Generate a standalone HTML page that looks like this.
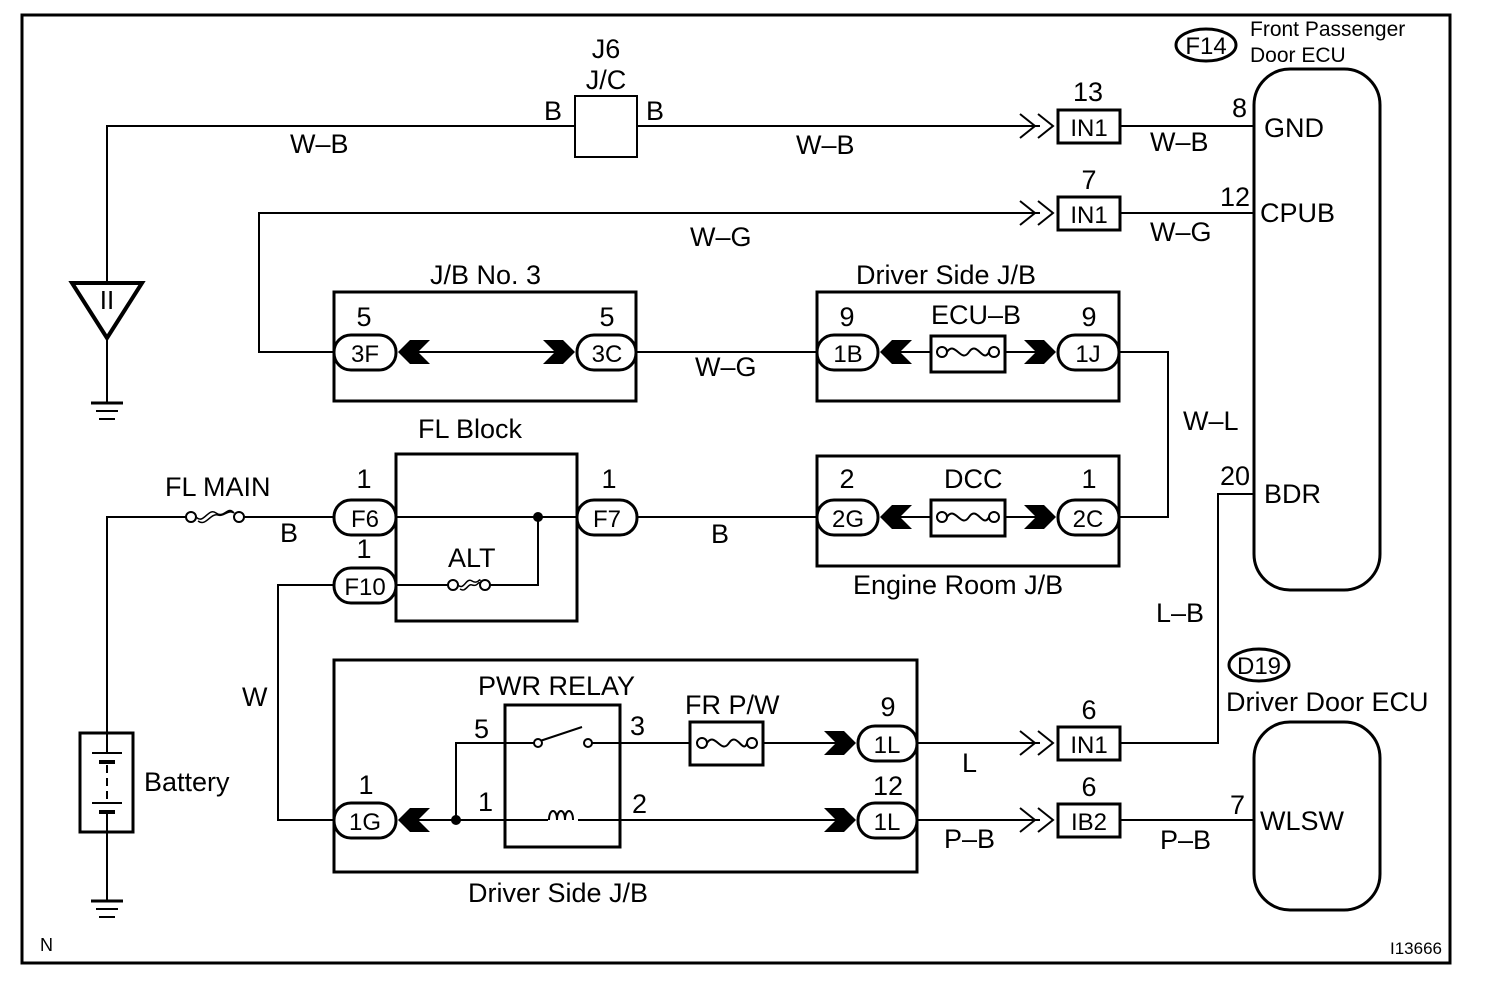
<!DOCTYPE html>
<html><head><meta charset="utf-8"><style>
html,body{margin:0;padding:0;background:#fff}
svg{display:block}
text{font-family:"Liberation Sans",Arial,sans-serif;fill:#000}
</style></head><body>
<svg width="1504" height="996" viewBox="0 0 1504 996" xmlns="http://www.w3.org/2000/svg">
<g fill="none" stroke="#000" stroke-width="2">
<rect x="22" y="15" width="1428" height="948" stroke-width="3"/>
<polyline points="107,282 107,126 575,126"/>
<line x1="637" y1="126" x2="1040" y2="126"/>
<rect x="575" y="96" width="62" height="61"/>
<polyline points="1020,114 1035,126 1020,138"/><polyline points="1038,114 1053,126 1038,138"/>
<rect x="1058" y="110" width="62" height="33" stroke-width="3"/>
<line x1="1120" y1="126" x2="1255" y2="126"/>
<polygon points="72,283 142,283 107,338" stroke-width="4"/>
<line x1="107" y1="338" x2="107" y2="402"/>
<line x1="91" y1="403" x2="123" y2="403" stroke-width="3"/>
<line x1="96" y1="411" x2="118" y2="411"/>
<line x1="99" y1="419" x2="115" y2="419"/>
<polyline points="334,352 259,352 259,213 1040,213"/>
<polyline points="1020,201 1035,213 1020,225"/><polyline points="1038,201 1053,213 1038,225"/>
<rect x="1058" y="197" width="62" height="33" stroke-width="3"/>
<line x1="1120" y1="213" x2="1255" y2="213"/>
<rect x="334" y="292" width="302" height="109" stroke-width="3"/>
<line x1="410" y1="352" x2="560" y2="352"/>
<line x1="636" y1="352" x2="817" y2="352"/>
<rect x="817" y="292" width="302" height="109" stroke-width="3"/>
<line x1="890" y1="352" x2="931" y2="352"/>
<line x1="1005" y1="352" x2="1045" y2="352"/>
<rect x="931" y="336" width="74" height="36" stroke-width="3"/>
<polyline points="1119,352 1168,352 1168,517 1119,517"/>
<rect x="817" y="456" width="302" height="110" stroke-width="3"/>
<line x1="890" y1="517" x2="931" y2="517"/>
<line x1="1005" y1="517" x2="1045" y2="517"/>
<rect x="931" y="500" width="74" height="36" stroke-width="3"/>
<rect x="396" y="454" width="181" height="167" stroke-width="3"/>
<line x1="396" y1="517" x2="577" y2="517"/>
<polyline points="538,517 538,585 490,585"/>
<line x1="396" y1="585" x2="448" y2="585"/>
<line x1="637" y1="517" x2="817" y2="517"/>
<polyline points="107,733 107,517 186,517"/>
<line x1="244" y1="517" x2="334" y2="517"/>
<rect x="80" y="733" width="53" height="99" stroke-width="3"/>
<line x1="107" y1="832" x2="107" y2="900"/>
<line x1="91" y1="901" x2="123" y2="901" stroke-width="3"/>
<line x1="96" y1="909" x2="118" y2="909"/>
<line x1="99" y1="917" x2="115" y2="917"/>
<line x1="92" y1="753" x2="122" y2="753"/>
<line x1="99" y1="762" x2="115" y2="762" stroke-width="4"/>
<line x1="107" y1="765" x2="107" y2="800" stroke-dasharray="8,5"/>
<line x1="92" y1="803" x2="122" y2="803"/>
<line x1="99" y1="812" x2="115" y2="812" stroke-width="4"/>
<line x1="107" y1="733" x2="107" y2="753"/><line x1="107" y1="812" x2="107" y2="832"/>
<polyline points="334,585 278,585 278,820 334,820"/>
<rect x="334" y="660" width="583" height="212" stroke-width="3"/>
<rect x="505" y="705" width="115" height="142" stroke-width="3"/>
<polyline points="456,820 456,743 538,743"/>
<line x1="410" y1="820" x2="548" y2="820"/>
<line x1="578" y1="820" x2="840" y2="820"/>
<line x1="540" y1="741" x2="582" y2="727"/>
<line x1="592" y1="743" x2="690" y2="743"/>
<line x1="763" y1="743" x2="840" y2="743"/>
<rect x="690" y="722" width="73" height="43" stroke-width="3"/>
<path d="M549,820 c0,-12 8,-12 8,0 c0,-12 8,-12 8,0 c0,-12 8,-12 8,0" />
<line x1="917" y1="743" x2="1040" y2="743"/>
<polyline points="1020,731 1035,743 1020,755"/><polyline points="1038,731 1053,743 1038,755"/>
<rect x="1058" y="727" width="62" height="33" stroke-width="3"/>
<polyline points="1120,743 1218,743 1218,494 1255,494"/>
<line x1="917" y1="820" x2="1040" y2="820"/>
<polyline points="1020,808 1035,820 1020,832"/><polyline points="1038,808 1053,820 1038,832"/>
<rect x="1058" y="804" width="62" height="33" stroke-width="3"/>
<line x1="1120" y1="820" x2="1255" y2="820"/>
<rect x="1254" y="69" width="126" height="521" rx="36" stroke-width="3"/>
<rect x="1254" y="722" width="126" height="188" rx="36" stroke-width="3"/>
<ellipse cx="1206" cy="45" rx="30" ry="16" stroke-width="3"/>
<ellipse cx="1259" cy="665" rx="30" ry="16" stroke-width="3"/>
<g stroke-width="3" fill="#fff">
<rect x="334" y="335" width="62" height="35" rx="17"/>
<rect x="577" y="335" width="59" height="35" rx="17"/>
<rect x="817" y="335" width="61" height="35" rx="17"/>
<rect x="1058" y="335" width="61" height="35" rx="17"/>
<rect x="817" y="500" width="61" height="35" rx="17"/>
<rect x="1058" y="500" width="61" height="35" rx="17"/>
<rect x="334" y="500" width="62" height="35" rx="17"/>
<rect x="577" y="500" width="60" height="35" rx="17"/>
<rect x="334" y="568" width="62" height="35" rx="17"/>
<rect x="334" y="803" width="62" height="35" rx="17"/>
<rect x="858" y="726" width="59" height="35" rx="17"/>
<rect x="858" y="803" width="59" height="35" rx="17"/>
</g>
<g fill="#fff">
<circle cx="942" cy="352" r="5"/><circle cx="994" cy="352" r="5"/>
<path d="M947,352 c8,-12 14,12 22,0 c8,-12 14,12 20,0" fill="none"/>
<circle cx="942" cy="517" r="5"/><circle cx="994" cy="517" r="5"/>
<path d="M947,517 c8,-12 14,12 22,0 c8,-12 14,12 20,0" fill="none"/>
<circle cx="702" cy="743" r="5"/><circle cx="752" cy="743" r="5"/>
<path d="M707,743 c8,-12 14,12 22,0 c8,-12 14,12 18,0" fill="none"/>
<circle cx="191" cy="517" r="5"/><circle cx="239" cy="517" r="5"/>
<path d="M196,517 c8,8 12,-10 20,-4 c8,6 12,-8 18,0 M198,521 c8,6 12,-8 20,-6 c6,2 10,-6 16,-2" fill="none" stroke-width="1.5"/>
<circle cx="453" cy="585" r="5"/><circle cx="485" cy="585" r="5"/>
<path d="M458,585 c6,6 8,-8 14,-4 c6,4 8,-4 8,0 M460,589 c6,4 8,-6 12,-4 c6,2 6,-4 8,-2" fill="none" stroke-width="1.5"/>
<circle cx="538" cy="743" r="4"/><circle cx="588" cy="743" r="4"/>
</g>
</g>
<g fill="#000">
<circle cx="538" cy="517" r="5"/><circle cx="456" cy="820" r="5"/>
<polygon points="398,352 410,340 430,340 418,352 430,364 410,364"/>
<polygon points="575,352 563,340 543,340 555,352 543,364 563,364"/>
<polygon points="880,352 892,340 912,340 900,352 912,364 892,364"/>
<polygon points="1056,352 1044,340 1024,340 1036,352 1024,364 1044,364"/>
<polygon points="880,517 892,505 912,505 900,517 912,529 892,529"/>
<polygon points="1056,517 1044,505 1024,505 1036,517 1024,529 1044,529"/>
<polygon points="398,820 410,808 430,808 418,820 430,832 410,832"/>
<polygon points="856,743 844,731 824,731 836,743 824,755 844,755"/>
<polygon points="856,820 844,808 824,808 836,820 824,832 844,832"/>
</g>
<g font-size="27">
<text x="290" y="153">W–B</text>
<text x="544" y="120">B</text><text x="646" y="120">B</text>
<text x="606" y="58" text-anchor="middle">J6</text><text x="606" y="89" text-anchor="middle">J/C</text>
<text x="796" y="154">W–B</text>
<text x="1088" y="101" text-anchor="middle">13</text>
<text x="1150" y="151">W–B</text>
<text x="1150" y="241">W–G</text>
<text x="1089" y="189" text-anchor="middle">7</text>
<text x="690" y="246">W–G</text>
<text x="430" y="284">J/B No. 3</text>
<text x="364" y="326" text-anchor="middle">5</text><text x="607" y="326" text-anchor="middle">5</text>
<text x="856" y="284">Driver Side J/B</text>
<text x="847" y="326" text-anchor="middle">9</text><text x="1089" y="326" text-anchor="middle">9</text>
<text x="931" y="324">ECU–B</text>
<text x="695" y="376">W–G</text>
<text x="1183" y="430">W–L</text>
<text x="418" y="438">FL Block</text>
<text x="165" y="496">FL MAIN</text>
<text x="280" y="542">B</text>
<text x="364" y="488" text-anchor="middle">1</text><text x="364" y="558" text-anchor="middle">1</text><text x="609" y="488" text-anchor="middle">1</text>
<text x="711" y="543">B</text>
<text x="448" y="567">ALT</text>
<text x="847" y="488" text-anchor="middle">2</text><text x="1089" y="488" text-anchor="middle">1</text>
<text x="944" y="488">DCC</text>
<text x="853" y="594">Engine Room J/B</text>
<text x="242" y="706">W</text>
<text x="144" y="791">Battery</text>
<text x="478" y="695">PWR RELAY</text>
<text x="685" y="714">FR P/W</text>
<text x="474" y="738">5</text><text x="478" y="811">1</text>
<text x="630" y="735">3</text><text x="632" y="813">2</text>
<text x="888" y="716" text-anchor="middle">9</text><text x="888" y="795" text-anchor="middle">12</text>
<text x="366" y="794" text-anchor="middle">1</text>
<text x="468" y="902">Driver Side J/B</text>
<text x="962" y="772">L</text>
<text x="944" y="848">P–B</text>
<text x="1089" y="719" text-anchor="middle">6</text><text x="1089" y="796" text-anchor="middle">6</text>
<text x="1160" y="849">P–B</text>
<text x="1156" y="622">L–B</text>
<text x="1226" y="711">Driver Door ECU</text>
<text x="1247" y="117" text-anchor="end">8</text><text x="1250" y="206" text-anchor="end">12</text><text x="1250" y="485" text-anchor="end">20</text><text x="1245" y="814" text-anchor="end">7</text>
<text x="1264" y="137">GND</text>
<text x="1260" y="222">CPUB</text>
<text x="1264" y="503">BDR</text>
<text x="1260" y="830">WLSW</text>
</g>
<g font-size="24">
<text x="365" y="362" text-anchor="middle">3F</text>
<text x="607" y="362" text-anchor="middle">3C</text>
<text x="848" y="362" text-anchor="middle">1B</text>
<text x="1088" y="362" text-anchor="middle">1J</text>
<text x="848" y="527" text-anchor="middle">2G</text>
<text x="1088" y="527" text-anchor="middle">2C</text>
<text x="365" y="527" text-anchor="middle">F6</text>
<text x="607" y="527" text-anchor="middle">F7</text>
<text x="365" y="595" text-anchor="middle">F10</text>
<text x="365" y="830" text-anchor="middle">1G</text>
<text x="887" y="753" text-anchor="middle">1L</text>
<text x="887" y="830" text-anchor="middle">1L</text>
<text x="1089" y="136" text-anchor="middle">IN1</text>
<text x="1089" y="223" text-anchor="middle">IN1</text>
<text x="1089" y="753" text-anchor="middle">IN1</text>
<text x="1089" y="830" text-anchor="middle">IB2</text>
<text x="1206" y="54" text-anchor="middle">F14</text>
<text x="1259" y="674" text-anchor="middle">D19</text>
<text x="107" y="309" text-anchor="middle" font-size="26">II</text>
</g>
<g font-size="21">
<text x="1250" y="36">Front Passenger</text>
<text x="1250" y="62">Door ECU</text>
</g>
<text x="40" y="951" font-size="18">N</text>
<text x="1390" y="954" font-size="17">I13666</text>
</svg>
</body></html>
